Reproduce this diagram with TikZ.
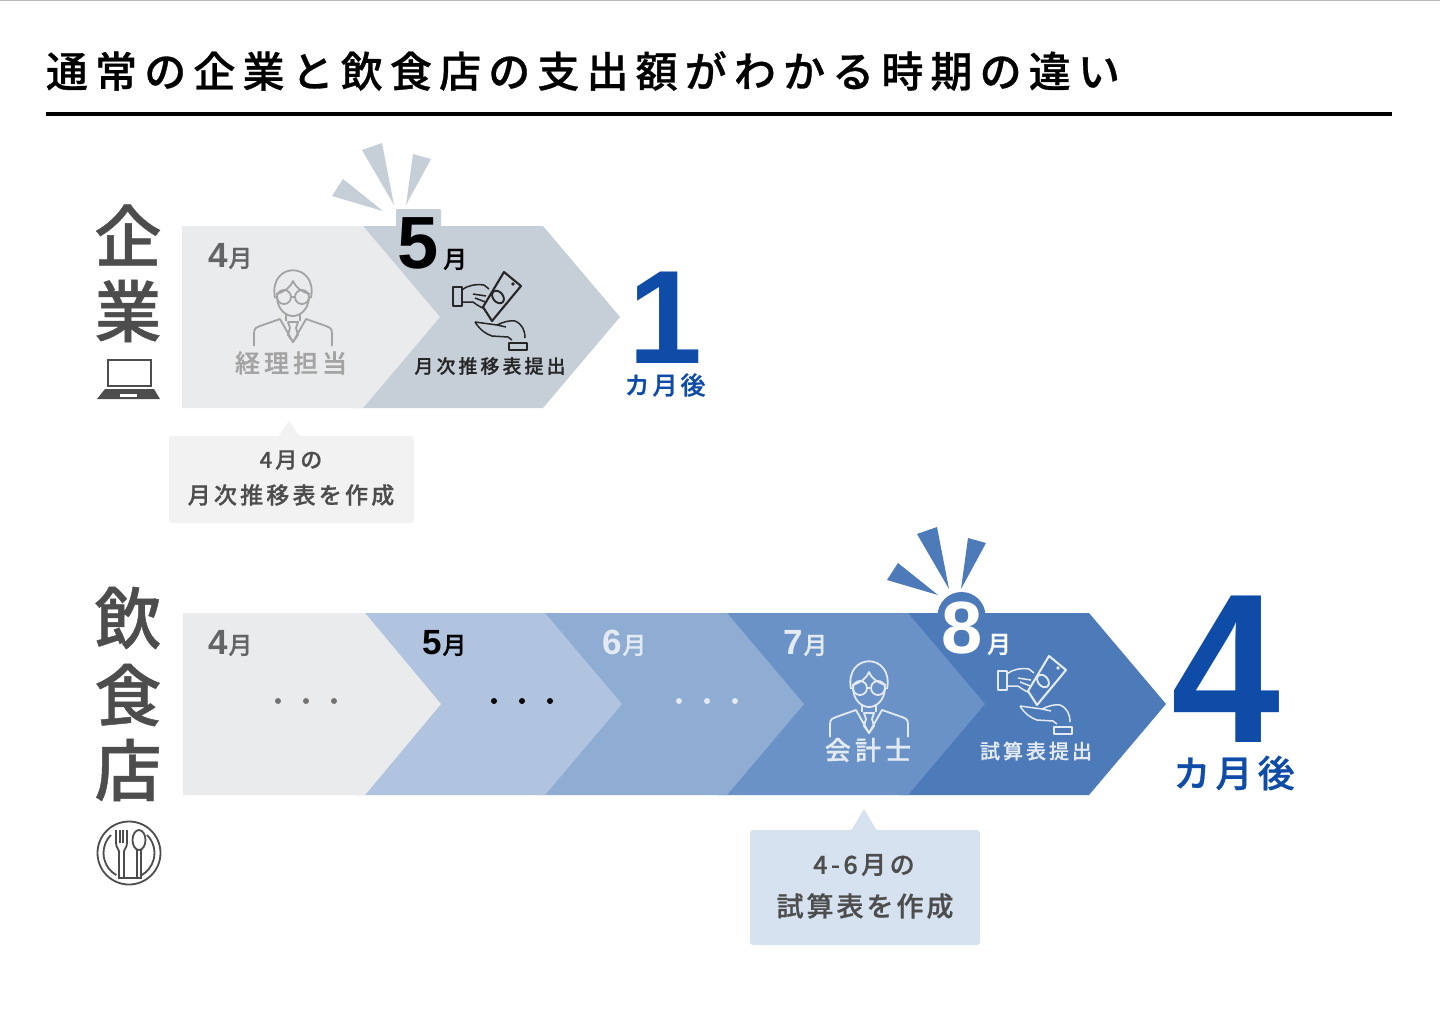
\documentclass[tikz,border=0pt]{standalone}
\usepackage{fontspec}
\setmainfont{Noto Sans CJK JP}[BoldFont={Noto Sans CJK JP Medium},BoldFeatures={FakeBold=0.7}]
\newfontfamily\digitfont{Liberation Sans}
\definecolor{inkgray}{HTML}{4D4D4D}
\definecolor{monthgray}{HTML}{626466}
\definecolor{chipgray}{HTML}{E9EBED}
\definecolor{slategray}{HTML}{C6CED8}
\definecolor{markblue}{HTML}{0F4CA8}
\definecolor{barB}{HTML}{B0C4E0}
\definecolor{barC}{HTML}{8FADD3}
\definecolor{barD}{HTML}{6B92C6}
\definecolor{barE}{HTML}{4D7AB8}
\definecolor{paleblue}{HTML}{E3EAF4}
\definecolor{notegray}{HTML}{F2F2F2}
\definecolor{noteblue}{HTML}{D6E2F0}
\newcommand{\jp}[2]{\fontsize{#1}{#1}\selectfont\bfseries\addfontfeature{LetterSpace=#2}}
\newcommand{\monthmark}[4]{{\digitfont\bfseries\fontsize{#1}{#1}\selectfont #2}\hspace{\ifnum#1>50 5pt\else 1pt\fi}{\jp{#3}{0}#4}}
\newcommand{\chevron}[3]{\fill[#3] (#1-10,#2) -- ++(190,0) -- ++(77,91) -- ++(-77,91) -- ++(-190,0) -- cycle;}
% three rays above a month
\newcommand{\burst}[3]{
	\fill[#3] (#1-31,#2-55) -- (#1-11,#2-62) -- (#1+1,#2) -- cycle;
	\fill[#3] (#1+20,#2-51) -- (#1+38,#2-46) -- (#1+13,#2) -- cycle;
	\fill[#3] (#1-61,#2-9) -- (#1-50,#2-26) -- (#1-10,#2+6) -- cycle;
}
% man with glasses
\newcommand{\clerkicon}[3]{
	\begin{scope}[shift={(#1,#2)},draw=#3,line width=1.8pt,line join=round]
	\draw (-18,10) .. controls (-25,-27) and (25,-27) .. (18,10);
	\draw (-17,6) .. controls (-9,4) and (-3,0) .. (0,-7) .. controls (3,0) and (9,4) .. (17,6);
	\draw (-16,10) .. controls (-15,22) and (-7,28) .. (0,28) .. controls (7,28) and (15,22) .. (16,10);
	\draw (-9,9) circle (7);
	\draw (9,9) circle (7);
	\draw (-2,9) -- (2,9);
	\draw (-39,58) -- (-39,45) .. controls (-39,40) and (-36,39) .. (-33,38) -- (-13,31) -- (0,54) -- (13,31) -- (33,38) .. controls (36,39) and (39,40) .. (39,45) -- (39,58);
	\draw (-7,26) -- (-7,33);
	\draw (7,26) -- (7,33);
	\draw (-5,34) -- (5,34) -- (3,40) -- (5,47) -- (0,54) -- (-5,47) -- (-3,40) -- cycle;
	\end{scope}
}
% banknote passed from hand to hand
\newcommand{\cashicon}[4]{
	\begin{scope}[shift={(#1,#2)},draw=#3,line width=1.5pt,line join=round]
	\draw (-47,-10) rectangle (-38,9);
	\draw (-38,-7) .. controls (-32,-12) and (-24,-13) .. (-16,-12) -- (-11,-8);
	\draw (-38,5) -- (-27,5) .. controls (-22,9) and (-16,12) .. (-9,14);
	\draw (-27,-3) -- (-14,-1) (-25,1) -- (-12,6);
	\draw[fill=#4,line width=2.1pt] (4,-25) -- (21,-11) -- (-8,24) -- (-17,10) -- cycle;
	\draw[rotate around={-50:(-2,0)},line width=1.9pt] (-2,0) ellipse (7 and 5);
	\fill[#3] (13,-13) circle (1.8);
	\draw (-25,25) -- (-3,28) -- (6,30) (-3,28) .. controls (3,25) and (10,23) .. (15,24) .. controls (22,27) and (25,33) .. (25,41);
	\draw (-25,25) .. controls (-20,33) and (-14,37) .. (-8,39) -- (8,40) -- (12,43);
	\draw (9,46) rectangle (27,53);
	\end{scope}
}
\tikzset{x=1pt,y=-1pt,
	txt/.style={inner sep=0pt,outer sep=0pt},
	month/.style={txt,anchor=base west},
	dot/.style={circle,inner sep=0pt,minimum size=6pt,fill=#1},
	bigchar/.style={txt,inkgray,font={\fontsize{67}{67}\selectfont\bfseries}},
	}

\begin{document}
\begin{tikzpicture}
	\useasboundingbox[fill=white] (0,0) rectangle (1440,1021);
	\draw[black!28,line width=1.5pt] (0,0.5) -- (1440,0.5);
	\node[txt,anchor=west,font={\jp{42}{17}}] (title) at (46,71) {通常の企業と飲食店の支出額がわかる時期の違い};
	\coordinate (ruleL) at (46,114);
	\coordinate (ruleR) at (1392,114);
	\draw[black,line width=3.5pt] (ruleL) -- (ruleR);

	% upper row
	\node[bigchar] (kigyoA) at (128,235) {企};
	\node[bigchar] (kigyoB) at (128,311) {業};
	\draw[inkgray,line width=2.4pt] (108,360) rectangle (151,386);
	\fill[inkgray] (105,389) -- (154,389) -- (160,399) -- (97,399) -- cycle;
	\fill[white] (120,394) rectangle (137,397);
	\chevron{363}{226}{slategray}
	\fill[slategray,rounded corners=1pt] (396,209) rectangle (441,230);
	\fill[chipgray] (182,226) -- ++(181,0) -- ++(77,91) -- ++(-77,91) -- ++(-181,0) -- cycle;
	\burst{393}{205}{slategray}
	\node[month,monthgray] (aprA) at (208,267) {\monthmark{35}{4}{24}{月}};
	\node[month,black] (mayA) at (397,268) {\monthmark{74}{5}{24}{月}};
	\clerkicon{293}{288}{black!36}
	\node[txt,black!36,font={\jp{25}{16}}] (keiri) at (291,363) {経理担当};
	\cashicon{500}{297}{black!85}{slategray}
	\node[txt,black!85,font={\jp{19}{16}}] (teishutsuA) at (490,366) {月次推移表提出};
	\node[txt,markblue,anchor=base,font={\digitfont\bfseries\fontsize{133}{133}\selectfont}] (one) at (665,363) {1};
	\node[txt,markblue,font={\jp{25}{12}}] (laterA) at (665,385) {カ月後};
	\fill[notegray,rounded corners=3pt] (169,436) rectangle (414,523);
	\fill[notegray] (278,437) -- (289,421) -- (300,437) -- cycle;
	\node[txt,inkgray,font={\jp{22}{14}}] (noteAa) at (291,460) {4月の};
	\node[txt,inkgray,font={\jp{23}{14}}] (noteAb) at (291,495) {月次推移表を作成};

	% lower row
	\node[bigchar] (inshokuA) at (128,618) {飲};
	\node[bigchar] (inshokuB) at (128,695) {食};
	\node[bigchar] (inshokuC) at (128,770) {店};
	% plate, fork and spoon
	\draw[inkgray,line width=1.8pt] (129,853) circle (31.5);
	\draw[inkgray,line width=1.8pt] (111,835) arc (225:120:25.5);
	\draw[inkgray,line width=1.8pt] (147,835) arc (-45:60:25.5);
	\draw[inkgray,line width=1.8pt] (122,878) -- (136,878);
	\draw[inkgray,line width=1.8pt] (116,830) -- (116,843) .. controls (116,848) and (119,849) .. (119,851) -- (119,878) -- (124,878) -- (124,851) .. controls (124,849) and (127,848) .. (127,843) -- (127,830);
	\draw[inkgray,line width=1.4pt] (120,830) -- (120,843) (123,830) -- (123,843);
	\draw[inkgray,line width=1.8pt] (139,840) ellipse (6.5 and 10);
	\draw[inkgray,line width=1.8pt] (137,850) -- (137,878) -- (141,878) -- (141,850);
	\foreach \x/\col in {909/barE,728/barD,547/barC,365/barB}{
		\chevron{\x}{613}{\col}
	}%bars
	\fill[chipgray] (183,613) -- ++(182,0) -- ++(76,91) -- ++(-76,91) -- ++(-182,0) -- cycle;
	\burst{948}{589}{barE}
	\fill[barE] (961.5,616) circle (24);
	\node[month,monthgray] (aprB) at (208,654) {\monthmark{35}{4}{24}{月}};
	\node[month,black] (mayB) at (422,654) {\monthmark{35}{5}{24}{月}};
	\node[month,paleblue] (junB) at (602,654) {\monthmark{35}{6}{24}{月}};
	\node[month,paleblue] (julB) at (783,654) {\monthmark{35}{7}{24}{月}};
	\node[month,white] (augB) at (941,653) {\monthmark{74}{8}{24}{月}};
	\foreach \x/\col [count=\i] in {278/black!55,306/black!55,334/black!55,494/black,522/black,550/black,679/paleblue,707/paleblue,735/paleblue}{
		\node[dot=\col] (dot\i) at (\x,701) {};
	}%dots
	\clerkicon{869}{679}{paleblue}
	\node[txt,paleblue,font={\jp{26}{16}}] (kaikei) at (868,750) {会計士};
	\cashicon{1045}{681}{paleblue}{barE}
	\node[txt,paleblue,font={\jp{20}{15}}] (teishutsuB) at (1036,751) {試算表提出};
	\node[txt,markblue,anchor=base,font={\digitfont\bfseries\fontsize{213}{213}\selectfont}] (four) at (1226,742) {\scalebox{0.92}[1]{4}};
	\node[txt,markblue,font={\jp{37}{14}}] (laterB) at (1234,773) {カ月後};
	\fill[noteblue,rounded corners=3pt] (750,830) rectangle (980,945);
	\fill[noteblue] (851,831) -- (864,809) -- (877,831) -- cycle;
	\node[txt,inkgray,font={\jp{25}{14}}] (noteBa) at (864,865) {4-6月の};
	\node[txt,inkgray,font={\jp{27}{11}}] (noteBb) at (865,906) {試算表を作成};
\end{tikzpicture}
\end{document}
